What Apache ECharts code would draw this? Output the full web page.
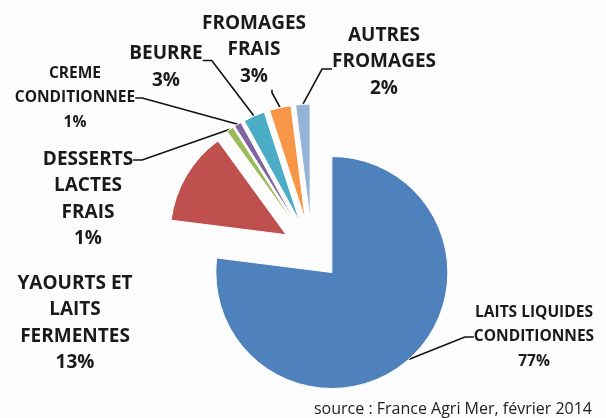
<!DOCTYPE html>
<html><head><meta charset="utf-8">
<script src="https://cdn.jsdelivr.net/npm/echarts@6/dist/echarts.min.js"></script>
<style>html,body{margin:0;padding:0;background:#fdfdfd}#c{width:606px;height:418px}</style>
</head><body><div id="c"></div>
<script>
// ---- data ----
const categories = ['LAITS LIQUIDES\nCONDITIONNES', 'YAOURTS ET\nLAITS\nFERMENTES', 'DESSERTS\nLACTES\nFRAIS', 'CREME\nCONDITIONNEE', 'BEURRE', 'FROMAGES\nFRAIS', 'AUTRES\nFROMAGES'];
const values = [77, 13, 1, 1, 3, 3, 2];
const sourceText = 'source : France Agri Mer, février 2014';

// ---- styles / layout ----
const colors = ['#4F81BD', '#C0504D', '#9BBB59', '#8064A2', '#4BACC6', '#F79646', '#95B3D7'];
const labelCentres = [[534, 337], [75, 323], [88, 199], [75, 98], [166, 67], [254, 50], [384, 62]];
// invisible padding [top, right, bottom, left] that moves the leader-line anchor
const anchorPads = [[0, 0, 0, 0], [0, 0, 0, 0], [78, 0, 0, 0], [0, 0, 0, 0], [13, 0, 0, 0], [0, 36, 0, 0], [0, 0, 14, 0]];
const lineLen2 = [9, 0, 9, 7, 9, 3, 10];
const smallLabel = [true, false, false, true, false, false, false];
const pieCentre = [312, 250], pieRadius = 116, explode = 30;

const lineH = i => smallLabel[i] ? 24.5 : 26.5;
const total = values.reduce((a, b) => a + b, 0);
let acc = 0;
const series = values.map((v, k) => {
  // every slice is pulled out along its own bisector (Excel "exploded" pie)
  const mid = (acc + v / 2) / total * 2 * Math.PI;
  acc += v;
  return {
    type: 'pie',
    center: [pieCentre[0] + explode * Math.sin(mid), pieCentre[1] - explode * Math.cos(mid)],
    radius: pieRadius,
    startAngle: 90,
    clockwise: true,
    silent: true,
    avoidLabelOverlap: false,
    label: {
      position: 'outside',
      formatter: p => p.name + '\n' + p.value + '%',
      fontFamily: 'Open Sans', fontWeight: 'bold', color: '#1a1a1a', align: 'center',
      backgroundColor: 'rgba(255,255,255,0)'
    },
    labelLine: {length: 10, length2: 9, lineStyle: {color: '#111', width: 1.6}},
    labelLayout: p => {
      const i = p.dataIndex, pad = anchorPads[i];
      const nLines = categories[i].split('\n').length + 1;
      return {
        x: labelCentres[i][0] + (pad[1] - pad[3]) / 2,
        y: labelCentres[i][1] - nLines * lineH(i) / 2 - pad[0],
        align: 'center', verticalAlign: 'top'
      };
    },
    data: categories.map((name, i) => ({
      name: name,
      value: values[i],
      itemStyle: i === k ? {color: colors[i], borderColor: '#ffffff', borderWidth: 1}
                         : {color: 'rgba(0,0,0,0)', borderWidth: 0},
      label: {
        show: i === k,
        fontSize: smallLabel[i] ? 15.5 : 19,
        lineHeight: lineH(i),
        padding: anchorPads[i]
      },
      labelLine: {show: i === k && i !== 1, length2: lineLen2[i]}
    }))
  };
});

const chart = echarts.init(document.getElementById('c'), null, {renderer: 'canvas'});
chart.setOption({
  backgroundColor: '#fdfdfd',
  animation: false,
  title: {
    text: sourceText, right: 14, bottom: 1, padding: 0,
    textStyle: {fontFamily: 'Open Sans', fontSize: 16, fontWeight: 'normal', color: '#222'}
  },
  series: series
});
</script>
</body></html>
